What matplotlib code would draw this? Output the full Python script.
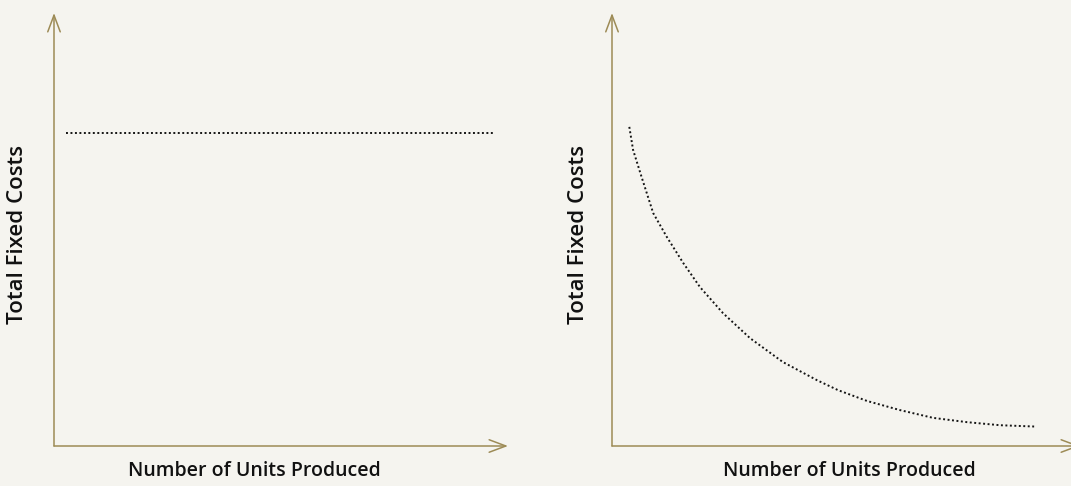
import matplotlib
matplotlib.use('Agg')
from matplotlib import pyplot as plt
from matplotlib.patches import FancyArrowPatch

# Left: total fixed costs stay flat as output grows
units_total = [2.6, 97.1]
total_fixed = [72.2, 72.2]

# Right: fixed cost spread over more units falls along a curve
units_curve = [3.7, 4.5, 6.3, 8.8, 11.7, 15.2, 18.8, 23.7, 29.5, 36.5,
               43.8, 48.3, 54.5, 61.5, 68.6, 75.9, 82.9, 90.2]
fixed_curve = [73.7, 68.4, 62.2, 53.8, 48.3, 42.3, 36.7, 30.7, 24.9, 19.4,
               15.2, 12.9, 10.4, 8.3, 6.5, 5.5, 4.8, 4.5]

y_label = "Total Fixed Costs"
x_label = "Number of Units Produced"

bg = '#f5f4ef'
axis_col = '#9d8b56'
W, H = 1071, 486

fig = plt.figure(figsize=(W/100, H/100), dpi=100, facecolor=bg)


def panel(left_px, width_px):
    ax = fig.add_axes([left_px/W, 40/H, width_px/W, 433/H])
    ax.set_xlim(0, 100)
    ax.set_ylim(0, 100)
    ax.axis('off')
    for end in [(100, 0), (0, 100)]:
        arr = FancyArrowPatch((0, 0), end, transform=ax.transData,
                              arrowstyle='->,head_length=1.2,head_width=0.45',
                              mutation_scale=10, color=axis_col, lw=1.1,
                              shrinkA=0, shrinkB=0, clip_on=False)
        ax.add_patch(arr)
    return ax


dots = dict(color='#151515', lw=1.4, linestyle=(0, (1, 1.3)),
            clip_on=False, solid_capstyle='butt')

ax1 = panel(54, 454)
ax1.plot(units_total, total_fixed, **dots)

ax2 = panel(612, 468)
ax2.plot(units_curve, fixed_curve, **dots)

font = dict(family=['Open Sans', 'DejaVu Sans'], weight='semibold',
            color='#111111')
fig.text(18/W, 1 - 234/H, y_label, rotation=90, ha='center', va='center',
         fontsize=16, **font)
fig.text(578/W, 1 - 234/H, y_label, rotation=90, ha='center', va='center',
         fontsize=16, **font)
fig.text(254/W, 1 - 471/H, x_label, ha='center', va='center', fontsize=14, **font)
fig.text(849/W, 1 - 471/H, x_label, ha='center', va='center', fontsize=14, **font)

fig.savefig('out.png', dpi=100, facecolor=bg)
